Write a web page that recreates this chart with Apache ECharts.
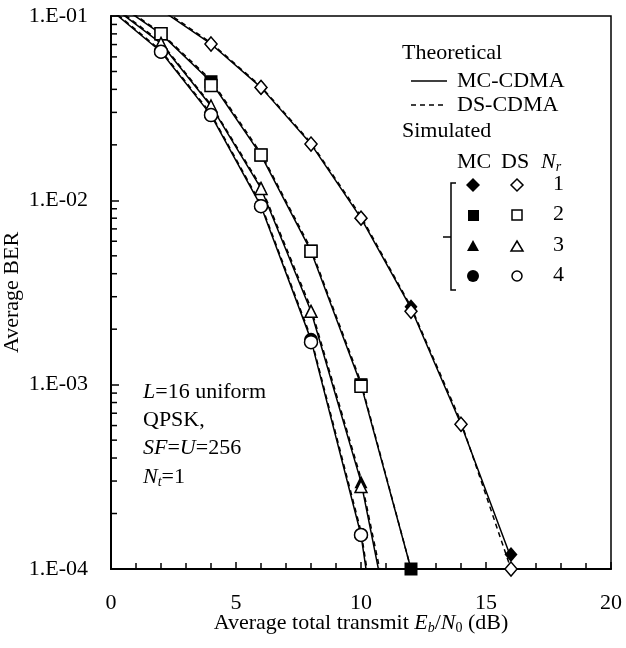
<!DOCTYPE html>
<html>
<head>
<meta charset="utf-8">
<script src="https://cdn.jsdelivr.net/npm/echarts@6/dist/echarts.min.js"></script>
<style>
html,body{margin:0;padding:0;background:#fff;}
#main{width:626px;height:648px;}
</style>
</head>
<body>
<div id="main"></div>
<script>
// Eb/N0 (dB) where the theory curves are read
var xTheory = [0, 2, 4, 6, 8, 10, 12, 14, 16];
// theoretical BER, MC-CDMA (solid) and DS-CDMA (dashed), per Nr
var mcTheory1 = [0.150, 0.108, 0.0705, 0.041, 0.0202, 8.0e-3, 2.6e-3, 6.1e-4, 1.15e-4];
var dsTheory1 = [0.152, 0.110, 0.0715, 0.0415, 0.0205, 8.2e-3, 2.65e-3, 6.3e-4, 1.0e-4];
var mcTheory2 = [0.123, 0.080, 0.044, 0.0176, 5.3e-3, 1.0e-3, 1.0e-4];
var dsTheory2 = [0.125, 0.081, 0.045, 0.018, 5.45e-3, 1.03e-3, 1.0e-4];
var mcTheory3 = [0.114, 0.071, 0.0325, 0.0116, 2.5e-3, 2.97e-4, 1.3e-5];
var dsTheory3 = [0.116, 0.072, 0.033, 0.0119, 2.6e-3, 3.1e-4, 1.5e-5];
var mcTheory4 = [0.1076, 0.064, 0.029, 9.3e-3, 1.75e-3, 1.53e-4, 2.2e-6];
var dsTheory4 = [0.109, 0.065, 0.0295, 9.5e-3, 1.8e-3, 1.6e-4, 3.0e-6];

// simulated points
var xSim1 = [4, 6, 8, 10, 12, 14, 16];
var mcSim1 = [0.0705, 0.041, 0.0202, 8.0e-3, 2.65e-3, 6.1e-4, 1.2e-4];
var dsSim1 = [0.0705, 0.041, 0.0202, 8.0e-3, 2.5e-3, 6.1e-4, 1.0e-4];
var xSim2 = [2, 4, 6, 8, 10, 12];
var mcSim2 = [0.080, 0.044, 0.0176, 5.3e-3, 1.0e-3, 1.0e-4];
var dsSim2 = [0.080, 0.042, 0.0176, 5.3e-3, 9.8e-4];
var xSim34 = [2, 4, 6, 8, 10];
var mcSim3 = [0.071, 0.0325, 0.0116, 2.5e-3, 2.97e-4];
var dsSim3 = [0.071, 0.0325, 0.0116, 2.5e-3, 2.8e-4];
var mcSim4 = [0.064, 0.029, 9.3e-3, 1.75e-3, 1.53e-4];
var dsSim4 = [0.064, 0.029, 9.3e-3, 1.7e-3, 1.53e-4];

// log minor ticks on the BER axis
var minorY = [2e-4, 3e-4, 4e-4, 5e-4, 6e-4, 7e-4, 8e-4, 9e-4,
              2e-3, 3e-3, 4e-3, 5e-3, 6e-3, 7e-3, 8e-3, 9e-3,
              2e-2, 3e-2, 4e-2, 5e-2, 6e-2, 7e-2, 8e-2, 9e-2];

var FONT = '"Liberation Serif", "Times New Roman", serif';

function pairs(xs, ys){
	var out = [];
	for(var i = 0; i < ys.length; i++){ out.push([xs[i], ys[i]]); }
	return out;
}

function theory(d, dashed){
	return {
		type: 'line', data: d, showSymbol: false, symbol: 'none', silent: true,
		lineStyle: {color: '#000', width: 1.5, type: dashed ? [5, 4] : 'solid'},
		z: 3
	};
}

function sim(d, sym, filled, size){
	return {
		type: 'scatter', data: d, symbol: sym, symbolSize: size, clip: false,
		itemStyle: {color: filled ? '#000' : '#fff', borderColor: '#000', borderWidth: filled ? 0 : 1.5, opacity: 1},
		z: filled ? 5 : 6
	};
}

var chart = echarts.init(document.getElementById('main'));

var L = 402; // legend left
var legendGraphic = [
	{type:'text', left: L, top: 42, style:{text:'Theoretical', font:'22px ' + FONT, fill:'#000'}},
	{type:'line', shape:{x1:411, y1:81, x2:447, y2:81}, style:{stroke:'#000', lineWidth:1.5}},
	{type:'text', left: 457, top: 70, style:{text:'MC-CDMA', font:'22px ' + FONT, fill:'#000'}},
	{type:'line', shape:{x1:411, y1:105, x2:447, y2:105}, style:{stroke:'#000', lineWidth:1.5, lineDash:[5, 4]}},
	{type:'text', left: 457, top: 94, style:{text:'DS-CDMA', font:'22px ' + FONT, fill:'#000'}},
	{type:'text', left: L, top: 120, style:{text:'Simulated', font:'22px ' + FONT, fill:'#000'}},
	{type:'text', left: 457, top: 151, style:{text:'MC', font:'22px ' + FONT, fill:'#000'}},
	{type:'text', left: 501, top: 151, style:{text:'DS', font:'22px ' + FONT, fill:'#000'}},
	{type:'text', left: 541, top: 151, style:{rich:{n:{font:'italic 22px ' + FONT}, s:{font:'italic 14px ' + FONT, padding:[10,0,0,0]}}, text:'{n|N}{s|r}'}},
	// bracket
	{type:'polyline', shape:{points:[[456,183],[451,183],[451,290],[456,290]]}, style:{stroke:'#000', lineWidth:1.5, fill:null}},
	{type:'line', shape:{x1:443, y1:237, x2:451, y2:237}, style:{stroke:'#000', lineWidth:1.5}}
];
var rowY = [185, 215, 246, 276];
var rowNum = ['1', '2', '3', '4'];
for(var r = 0; r < 4; r++){
	var y = rowY[r];
	legendGraphic.push({type:'text', left: 553, top: y - 12, style:{text:rowNum[r], font:'22px ' + FONT, fill:'#000'}});
}
// MC (filled) and DS (open) legend symbols
legendGraphic.push({type:'polygon', shape:{points:[[473,178],[480,185],[473,192],[466,185]]}, style:{fill:'#000'}});
legendGraphic.push({type:'polygon', shape:{points:[[517,179],[523,185],[517,191],[511,185]]}, style:{fill:'#fff', stroke:'#000', lineWidth:1.5}});
legendGraphic.push({type:'rect', shape:{x:468, y:210, width:11, height:11}, style:{fill:'#000'}});
legendGraphic.push({type:'rect', shape:{x:512, y:210, width:10, height:10}, style:{fill:'#fff', stroke:'#000', lineWidth:1.5}});
legendGraphic.push({type:'polygon', shape:{points:[[473,240],[479,251],[467,251]]}, style:{fill:'#000'}});
legendGraphic.push({type:'polygon', shape:{points:[[517,241],[523,251],[511,251]]}, style:{fill:'#fff', stroke:'#000', lineWidth:1.5}});
legendGraphic.push({type:'circle', shape:{cx:473, cy:276, r:6}, style:{fill:'#000'}});
legendGraphic.push({type:'circle', shape:{cx:517, cy:276, r:5}, style:{fill:'#fff', stroke:'#000', lineWidth:1.5}});

// parameter note
var noteRich = {
	r:{font:'22px ' + FONT, fill:'#000'},
	i:{font:'italic 22px ' + FONT, fill:'#000'},
	s:{font:'italic 14px ' + FONT, fill:'#000', padding:[10,0,0,0]}
};
legendGraphic.push({type:'text', left:143, top:381, style:{rich:noteRich, text:'{i|L}{r|=16 uniform}'}});
legendGraphic.push({type:'text', left:143, top:409, style:{rich:noteRich, text:'{r|QPSK,}'}});
legendGraphic.push({type:'text', left:143, top:437, style:{rich:noteRich, text:'{i|SF}{r|=}{i|U}{r|=256}'}});
legendGraphic.push({type:'text', left:143, top:466, style:{rich:noteRich, text:'{i|N}{s|t}{r|=1}'}});

chart.setOption({
	animation: false,
	backgroundColor: '#fff',
	grid: {left: 111, right: 15, top: 16, bottom: 79, outerBoundsMode: 'none', show: true, borderColor: '#000', borderWidth: 1.5},
	graphic: legendGraphic,
	xAxis: {
		type: 'value', min: 0, max: 20, interval: 5,
		name: '{r|Average total transmit }{i|E}{s|b}{r|/}{i|N}{s2|0}{r| (dB)}',
		nameLocation: 'middle', nameGap: 42, nameMoveOverlap: false,
		nameTextStyle: {rich: {
			r:{fontFamily: FONT, fontSize: 22, color:'#000'},
			i:{fontFamily: FONT, fontSize: 22, fontStyle:'italic', color:'#000'},
			s:{fontFamily: FONT, fontSize: 14, fontStyle:'italic', color:'#000', padding:[10,0,0,0]},
			s2:{fontFamily: FONT, fontSize: 14, color:'#000', padding:[10,0,0,0]}
		}},
		axisLine: {onZero: false, lineStyle: {color: '#000', width: 2}},
		axisTick: {inside: true, length: 7, lineStyle: {color: '#000', width: 1.5}},
		minorTick: {show: true, splitNumber: 5, length: 6, lineStyle: {color: '#000', width: 1.5}},
		axisLabel: {fontFamily: FONT, fontSize: 22, color: '#000', margin: 23},
		splitLine: {show: false}
	},
	yAxis: {
		type: 'log', logBase: 10, min: 1e-4, max: 0.1,
		name: 'Average BER', nameLocation: 'middle', nameGap: 88, nameRotate: 90, nameMoveOverlap: false,
		nameTextStyle: {fontFamily: FONT, fontSize: 22, color: '#000'},
		axisLine: {onZero: false, lineStyle: {color: '#000', width: 2}},
		axisTick: {inside: true, length: 8, lineStyle: {color: '#000', width: 1.5}},
		axisLabel: {fontFamily: FONT, fontSize: 22, color: '#000', margin: 23,
			formatter: function(v){ return '1.E-0' + Math.round(-Math.log10(v)); }},
		splitLine: {show: false}
	},
	series: [
		theory(pairs(xTheory, mcTheory1), false),
		theory(pairs(xTheory, dsTheory1), true),
		theory(pairs(xTheory, mcTheory2), false),
		theory(pairs(xTheory, dsTheory2), true),
		theory(pairs(xTheory, mcTheory3), false),
		theory(pairs(xTheory, dsTheory3), true),
		theory(pairs(xTheory, mcTheory4), false),
		theory(pairs(xTheory, dsTheory4), true),
		sim(pairs(xSim1, mcSim1), 'diamond', true, [13, 15]),
		sim(pairs(xSim1, dsSim1), 'diamond', false, [12, 14]),
		sim(pairs(xSim2, mcSim2), 'rect', true, 13),
		sim(pairs(xSim2, dsSim2), 'rect', false, 12),
		sim(pairs(xSim34, mcSim3), 'triangle', true, 13),
		sim(pairs(xSim34, dsSim3), 'triangle', false, 12),
		sim(pairs(xSim34, mcSim4), 'circle', true, 14),
		sim(pairs(xSim34, dsSim4), 'circle', false, 13),
		{
			type: 'custom', silent: true, clip: false, z: 4,
			data: minorY.map(function(v){ return [0, v]; }),
			renderItem: function(params, api){
				var p = api.coord([0, api.value(1)]);
				return {type: 'line', shape: {x1: p[0], y1: p[1], x2: p[0] + 6, y2: p[1]},
					style: {stroke: '#000', lineWidth: 1.5}};
			}
		}
	]
});
</script>
</body>
</html>
